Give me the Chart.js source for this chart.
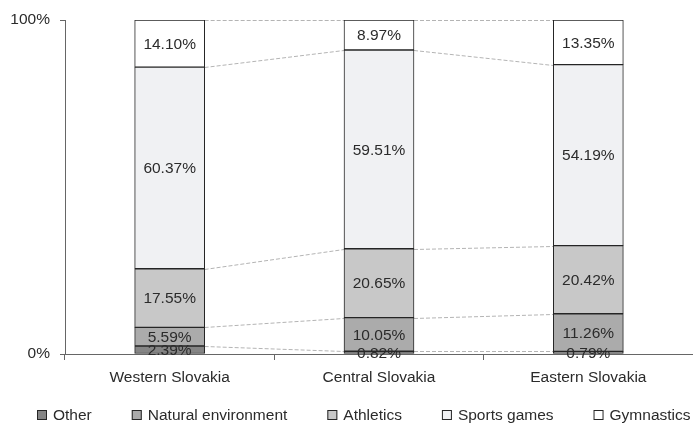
<!DOCTYPE html>
<html>
<head>
<meta charset="utf-8">
<script src="https://cdn.jsdelivr.net/npm/chart.js@4"></script>
<style>
  html, body { margin: 0; padding: 0; background: #fff; }
  #wrap { width: 693px; height: 427px; }
</style>
</head>
<body>
<div id="wrap"><canvas id="chart"></canvas></div>
<script>
const regions = ["Western Slovakia", "Central Slovakia", "Eastern Slovakia"];
const other = [2.39, 0.82, 0.79];
const naturalEnvironment = [5.59, 10.05, 11.26];
const athletics = [17.55, 20.65, 20.42];
const sportsGames = [60.37, 59.51, 54.19];
const gymnastics = [14.1, 8.97, 13.35];
const yTicks = [0, 100];

const textColor = "#2b2b2b";
const edgeColor = "#262626";
const axisColor = "#666666";
const fontFamily = "'Liberation Sans', Arial, sans-serif";

Chart.defaults.font.family = fontFamily;
Chart.defaults.font.size = 15.5;
Chart.defaults.color = textColor;

function series(label, data, fill) {
  return {
    label,
    data,
    backgroundColor: fill,
    borderColor: edgeColor,
    borderWidth: 1,
    borderSkipped: false,
    barThickness: 70,
  };
}

// dashed connectors between equal stack boundaries of neighbouring bars
const connectors = {
  id: "connectors",
  beforeDatasetsDraw(chart) {
    const ctx = chart.ctx;
    ctx.save();
    ctx.strokeStyle = "#b4b4b4";
    ctx.lineWidth = 1;
    ctx.setLineDash([4, 2]);
    chart.data.datasets.forEach((ds, di) => {
      const bars = chart.getDatasetMeta(di).data;
      for (let i = 0; i < bars.length - 1; i++) {
        const a = bars[i];
        const b = bars[i + 1];
        ctx.beginPath();
        ctx.moveTo(a.x + a.width / 2, Math.round(a.y) + 0.5);
        ctx.lineTo(b.x - b.width / 2, Math.round(b.y) + 0.5);
        ctx.stroke();
      }
    });
    ctx.restore();
  },
};

// percentage labels centred in each segment
const segmentLabels = {
  id: "segmentLabels",
  afterDatasetsDraw(chart) {
    const ctx = chart.ctx;
    ctx.save();
    ctx.fillStyle = textColor;
    ctx.font = "15.5px " + fontFamily;
    ctx.textAlign = "center";
    ctx.textBaseline = "middle";
    chart.data.datasets.forEach((ds, di) => {
      chart.getDatasetMeta(di).data.forEach((bar, i) => {
        const v = ds.data[i];
        ctx.fillText(v.toFixed(2) + "%", bar.x, (bar.y + bar.base) / 2 + 1);
      });
    });
    ctx.restore();
  },
};

// legend row along the bottom, spaced like the original
const bottomLegend = {
  id: "bottomLegend",
  afterDraw(chart) {
    const ctx = chart.ctx;
    const y = 415;
    const box = 10;
    const gap = 40;
    let x = 37;
    ctx.save();
    ctx.font = "15.5px " + fontFamily;
    ctx.textBaseline = "middle";
    ctx.textAlign = "left";
    chart.data.datasets.forEach((ds) => {
      ctx.fillStyle = ds.backgroundColor;
      ctx.fillRect(x, y - box / 2, box, box);
      ctx.strokeStyle = edgeColor;
      ctx.lineWidth = 1;
      ctx.strokeRect(x + 0.5, y - box / 2 + 0.5, box - 1, box - 1);
      ctx.fillStyle = textColor;
      ctx.fillText(ds.label, x + box + 6, y + 1);
      x += box + 6 + ctx.measureText(ds.label).width + gap;
    });
    ctx.restore();
  },
};

new Chart(document.getElementById("chart").getContext("2d"), {
  type: "bar",
  data: {
    labels: regions,
    datasets: [
      series("Other", other, "#858585"),
      series("Natural environment", naturalEnvironment, "#ababab"),
      series("Athletics", athletics, "#c8c8c8"),
      series("Sports games", sportsGames, "#f0f1f3"),
      series("Gymnastics", gymnastics, "#ffffff"),
    ],
  },
  options: {
    responsive: true,
    maintainAspectRatio: false,
    animation: false,
    layout: {
      padding: { left: 0, right: -8, top: 20, bottom: 30 },
    },
    scales: {
      x: {
        stacked: true,
        grid: {
          offset: true,
          drawOnChartArea: false,
          drawTicks: true,
          tickLength: 6,
          color: axisColor,
        },
        border: { color: axisColor },
        ticks: { color: textColor, padding: 8, maxRotation: 0 },
        afterFit(scale) {
          scale.height = 43;
        },
      },
      y: {
        stacked: true,
        min: yTicks[0],
        max: yTicks[yTicks.length - 1],
        afterBuildTicks(scale) {
          scale.ticks = yTicks.map((v) => ({ value: v }));
        },
        grid: {
          drawOnChartArea: false,
          drawTicks: true,
          tickLength: 5,
          color: axisColor,
        },
        border: { color: axisColor },
        ticks: {
          color: textColor,
          padding: 10,
          callback: (v) => v + "%",
        },
        afterFit(scale) {
          scale.width = 65;
        },
      },
    },
    plugins: {
      legend: { display: false },
      tooltip: { enabled: false },
    },
  },
  plugins: [connectors, segmentLabels, bottomLegend],
});
</script>
</body>
</html>
